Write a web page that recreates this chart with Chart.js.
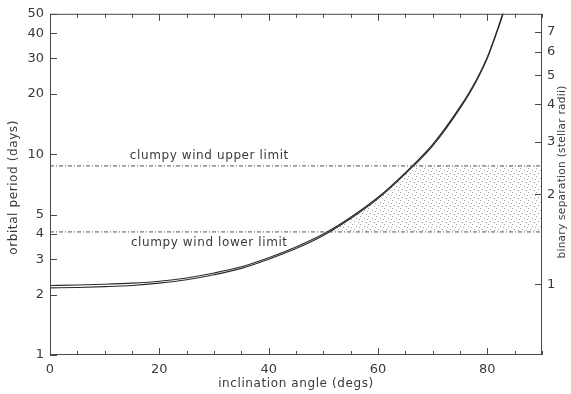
<!DOCTYPE html>
<html><head><meta charset="utf-8">
<script src="https://cdn.jsdelivr.net/npm/chart.js@4/dist/chart.umd.min.js"></script>
<style>html,body{margin:0;padding:0;background:#fff}canvas{display:block}</style>
</head><body>
<canvas id="c" width="571" height="394"></canvas>
<script>
// ---- data ----
const angles  = [0, 5, 10, 15, 20, 25, 30, 35, 40, 45, 50, 55, 60, 65, 70, 75, 78, 80, 82, 83];
const periodA = [2.22, 2.23, 2.25, 2.28, 2.33, 2.42, 2.56, 2.75, 3.05, 3.45, 4.0, 4.85, 6.1, 8.1, 11.2, 17.2, 23.5, 30.5, 43, 52];
const periodB = [2.16, 2.17, 2.19, 2.22, 2.28, 2.37, 2.51, 2.70, 3.00, 3.39, 3.94, 4.78, 6.01, 7.98, 11.0, 16.9, 23.1, 30.0, 42.3, 51];
const upperLimit = 8.74;
const lowerLimit = 4.10;
const shadeAngles = [50.2, 55, 60, 65, 66.4, 90];
const shadeTop    = [4.10, 4.85, 6.1, 8.1, 8.74, 8.74];
const xTicks = [0, 20, 40, 60, 80];
const periodTicks = [1, 2, 3, 4, 5, 10, 20, 30, 40, 50];
const separationTicks = [1, 2, 3, 4, 5, 6, 7];
const separationRange = [0.581, 8.03];
const labels = {
  x: 'inclination angle (degs)',
  y: 'orbital period (days)',
  y2: 'binary separation (stellar radii)',
  upper: 'clumpy wind upper limit',
  lower: 'clumpy wind lower limit'
};

// ---- styling ----
const FONT = '"DejaVu Sans", sans-serif';
const TXT = '#3a3a3a';

const pc = document.createElement('canvas');
pc.width = 8; pc.height = 8;
const pctx = pc.getContext('2d');
pctx.fillStyle = 'rgba(70,70,70,0.5)';
[[0,0],[4,2],[2,5],[6,6],[7,3]].forEach(([a,b]) => pctx.fillRect(a,b,1,1));
const ctx0 = document.getElementById('c').getContext('2d');
const stipple = ctx0.createPattern(pc, 'repeat');

const xy = (xs, ys) => xs.map((x, i) => ({x, y: ys[i]}));

const decor = {
  id: 'decor',
  afterDatasetsDraw(chart) {
    const {ctx, chartArea: ca, scales} = chart;
    ctx.save();
    ctx.strokeStyle = '#4a4a4a';
    ctx.lineWidth = 1;
    const line = (x1, y1, x2, y2) => { ctx.beginPath(); ctx.moveTo(x1, y1); ctx.lineTo(x2, y2); ctx.stroke(); };
    ctx.strokeRect(ca.left + 0.5, ca.top + 0.5, ca.right - ca.left - 1, ca.bottom - ca.top - 1);
    for (let v = 0; v <= 90; v += 5) {
      const px = Math.round(scales.x.getPixelForValue(v)) + 0.5;
      const len = v % 20 === 0 ? 7 : 4;
      line(px, ca.bottom, px, ca.bottom - len);
      line(px, ca.top, px, ca.top + len);
    }
    periodTicks.forEach(v => {
      const py = Math.round(scales.y.getPixelForValue(v)) + 0.5;
      line(ca.left, py, ca.left + 7, py);
    });
    separationTicks.forEach(v => {
      const py = Math.round(scales.y2.getPixelForValue(v)) + 0.5;
      line(ca.right, py, ca.right - 7, py);
    });
    // annotations
    ctx.fillStyle = TXT;
    ctx.font = '12px ' + FONT;
    ctx.letterSpacing = '0.6px';
    ctx.textAlign = 'left';
    ctx.textBaseline = 'alphabetic';
    ctx.fillText(labels.upper, scales.x.getPixelForValue(14.6), scales.y.getPixelForValue(upperLimit) - 7);
    ctx.fillText(labels.lower, scales.x.getPixelForValue(14.8), scales.y.getPixelForValue(lowerLimit) + 14);
    // axis titles
    ctx.textAlign = 'center';
    ctx.textBaseline = 'middle';
    ctx.fillText(labels.x, (ca.left + ca.right) / 2, 384);
    ctx.save();
    ctx.translate(14, (ca.top + ca.bottom) / 2 + 3);
    ctx.rotate(-Math.PI / 2);
    ctx.fillText(labels.y, 0, 0);
    ctx.restore();
    ctx.save();
    ctx.font = '10.5px ' + FONT;
    ctx.letterSpacing = '0.3px';
    ctx.translate(562, 172);
    ctx.rotate(-Math.PI / 2);
    ctx.fillText(labels.y2, 0, 0);
    ctx.restore();
    ctx.restore();
  }
};

const tickFont = {family: FONT, size: 13};

new Chart(ctx0, {
  type: 'line',
  data: {
    datasets: [
      {data: xy(shadeAngles, shadeTop), borderWidth: 0, pointRadius: 0, fill: '+1', backgroundColor: stipple, yAxisID: 'y', cubicInterpolationMode: 'monotone'},
      {data: xy(shadeAngles, shadeAngles.map(() => lowerLimit)), borderWidth: 0, pointRadius: 0, fill: false, yAxisID: 'y'},
      {data: xy([0, 90], [upperLimit, upperLimit]), borderColor: '#555', borderWidth: 1, borderDash: [4, 2, 1, 2], pointRadius: 0, fill: false, yAxisID: 'y'},
      {data: xy([0, 90], [lowerLimit, lowerLimit]), borderColor: '#555', borderWidth: 1, borderDash: [4, 2, 1, 2], pointRadius: 0, fill: false, yAxisID: 'y'},
      {data: xy(angles, periodA), borderColor: '#2a2a2a', borderWidth: 1.1, pointRadius: 0, fill: false, cubicInterpolationMode: 'monotone', yAxisID: 'y'},
      {data: xy(angles, periodB), borderColor: '#2a2a2a', borderWidth: 1.1, pointRadius: 0, fill: false, cubicInterpolationMode: 'monotone', yAxisID: 'y'}
    ]
  },
  options: {
    responsive: false,
    animation: false,
    events: [],
    layout: {padding: {top: 7, left: 0, right: 0, bottom: 0}},
    plugins: {legend: {display: false}, tooltip: {enabled: false}},
    scales: {
      x: {
        type: 'linear', min: 0, max: 90,
        afterBuildTicks: s => { s.ticks = xTicks.map(v => ({value: v})); },
        afterFit: s => { s.height = 39; },
        grid: {display: false, drawTicks: false}, border: {display: false},
        ticks: {padding: 7, font: tickFont, color: TXT, maxRotation: 0, autoSkip: false, callback: v => String(v)}
      },
      y: {
        type: 'logarithmic', position: 'left', min: 1, max: 50,
        afterBuildTicks: s => { s.ticks = periodTicks.map(v => ({value: v})); },
        afterFit: s => { s.width = 50; },
        grid: {display: false, drawTicks: false}, border: {display: false},
        ticks: {padding: 6, font: tickFont, color: TXT, autoSkip: false, callback: v => String(v)}
      },
      y2: {
        type: 'logarithmic', position: 'right', min: separationRange[0], max: separationRange[1],
        afterBuildTicks: s => { s.ticks = separationTicks.map(v => ({value: v})); },
        afterFit: s => { s.width = 29; },
        grid: {display: false, drawTicks: false}, border: {display: false},
        ticks: {padding: 5, font: tickFont, color: TXT, autoSkip: false, callback: v => String(v)}
      }
    }
  },
  plugins: [decor]
});
</script>
</body></html>
